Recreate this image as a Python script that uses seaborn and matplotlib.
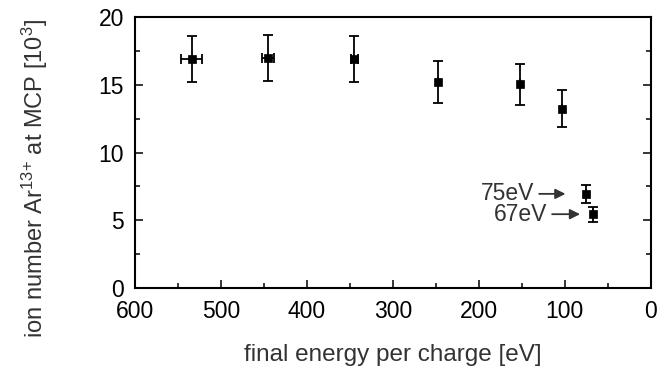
import matplotlib
matplotlib.use("Agg")
import matplotlib.pyplot as plt
import seaborn as sns
import pandas as pd
from matplotlib.ticker import MultipleLocator

energy = [534, 445, 345, 247, 152, 103, 75, 67]
ions = [16.9, 17.0, 16.9, 15.2, 15.05, 13.25, 6.95, 5.45]
ion_err = [1.7, 1.7, 1.7, 1.53, 1.52, 1.34, 0.67, 0.55]
energy_err = [12, 7, 4, 0, 0, 0, 0, 0]
labels = ["75eV", "67eV"]

sns.set_style("ticks")
plt.rcParams['font.family'] = ['Liberation Sans', 'DejaVu Sans']
plt.rcParams['mathtext.fontset'] = 'custom'
plt.rcParams['mathtext.rm'] = 'Liberation Sans'
plt.rcParams['mathtext.it'] = 'Liberation Sans'

df = pd.DataFrame({"energy": energy, "ions": ions})

fig = plt.figure(figsize=(6.6, 3.72), dpi=100)
ax = fig.add_axes([0.2045, 0.2258, 0.7815, 0.7282])

ax.errorbar(energy, ions, yerr=ion_err, xerr=energy_err, fmt='none',
            ecolor='black', elinewidth=1.3, capsize=3.5, capthick=1.3, zorder=2)
sns.scatterplot(data=df, x="energy", y="ions", marker='s', s=34, color='black',
                edgecolor='black', linewidth=0.5, ax=ax, zorder=3)

ax.set_xlim(600, 0)
ax.set_ylim(0, 20)
ax.xaxis.set_major_locator(MultipleLocator(100))
ax.xaxis.set_minor_locator(MultipleLocator(50))
ax.yaxis.set_major_locator(MultipleLocator(5))
ax.yaxis.set_minor_locator(MultipleLocator(2.5))
ax.tick_params(which='both', direction='in', right=True, top=False, width=1.3,
               labelsize=16.5, labelcolor='black')
ax.tick_params(axis='x', which='both', pad=8.5)
ax.tick_params(axis='y', which='both', pad=8)
ax.tick_params(which='major', length=6)
ax.tick_params(which='minor', length=3.5)
for s in ax.spines.values():
    s.set_visible(True)
    s.set_linewidth(1.5)
    s.set_color('black')

ax.set_xlabel("final energy per charge [eV]", fontsize=17.5, color='#333333', labelpad=15)
ax.set_ylabel(r"ion number Ar$^{13{+}}$ at MCP [10$^{3}$]", fontsize=17,
              color='#333333')
ax.yaxis.set_label_coords(-0.165, 0.405)

# annotations
ax.annotate("", xy=(96, 6.95), xytext=(133, 6.95),
            arrowprops=dict(arrowstyle='-|>', color='#333333', lw=1.3, mutation_scale=15))
ax.text(135, 6.95, labels[0], ha='right', va='center', fontsize=16.5, color='#333333')
ax.annotate("", xy=(79, 5.45), xytext=(118, 5.45),
            arrowprops=dict(arrowstyle='-|>', color='#333333', lw=1.3, mutation_scale=15))
ax.text(120, 5.45, labels[1], ha='right', va='center', fontsize=16.5, color='#333333')

fig.savefig("out.png", dpi=100)
